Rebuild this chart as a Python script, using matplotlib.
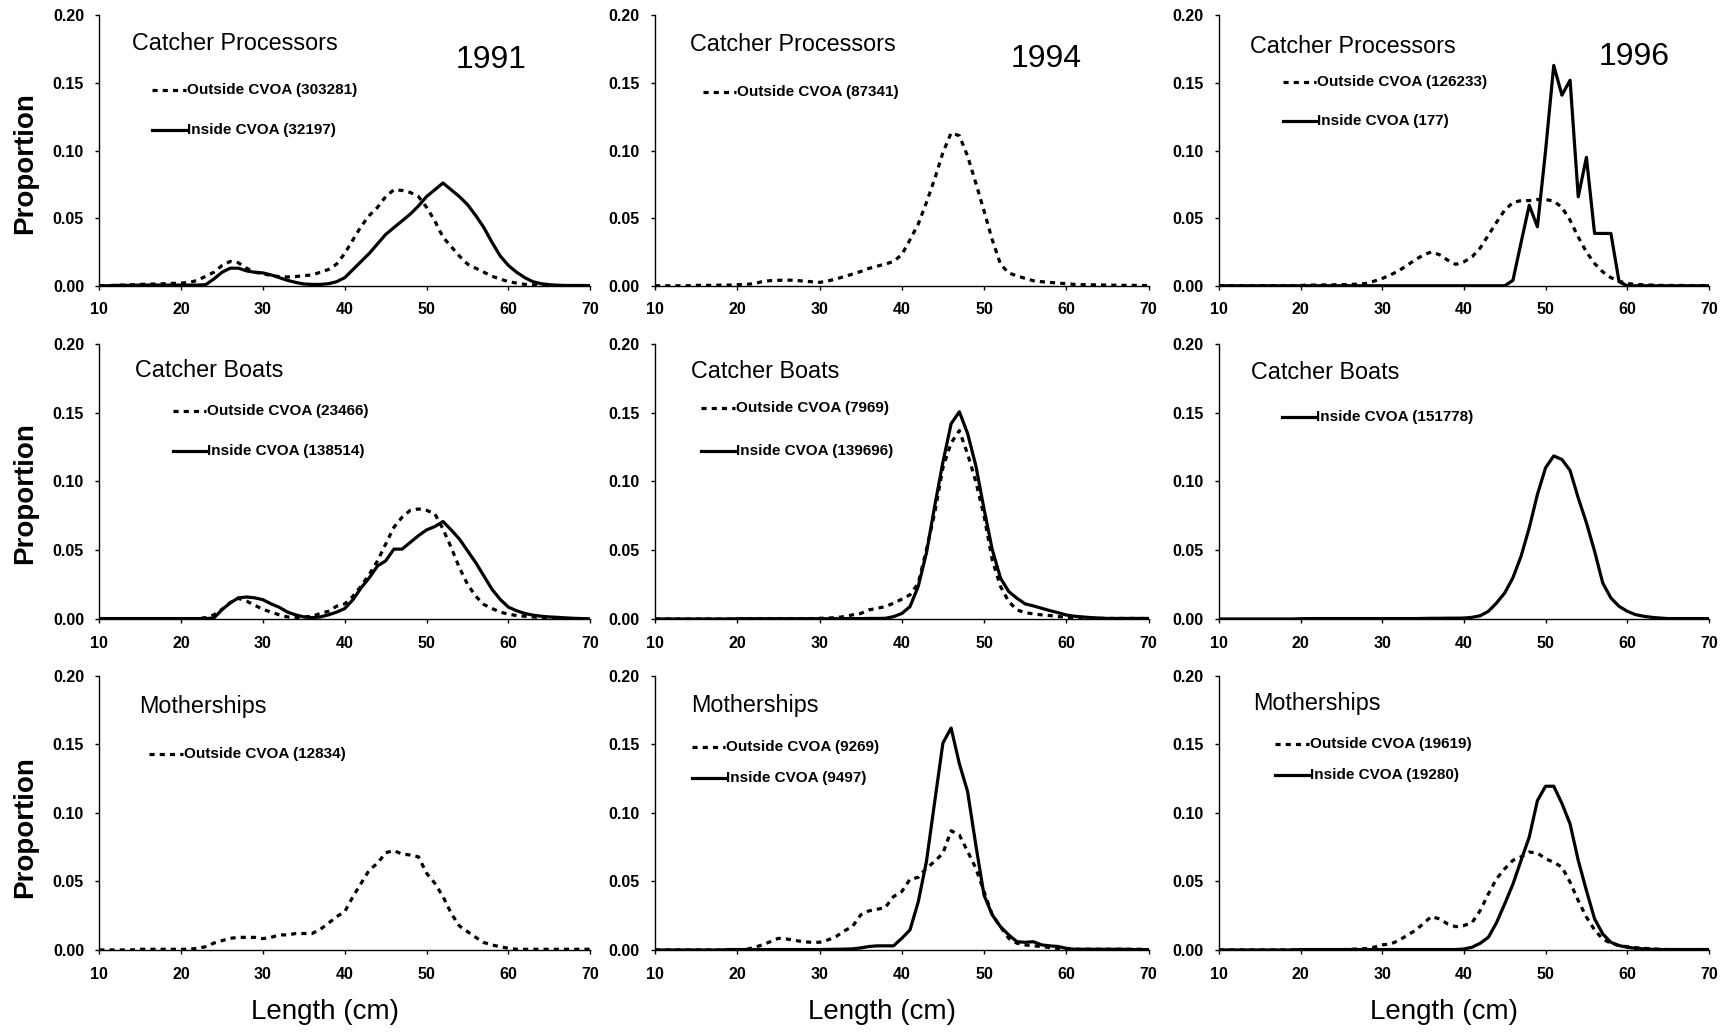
import matplotlib
matplotlib.use("Agg")
import matplotlib.pyplot as plt

plt.rcParams['font.family'] = ['Liberation Sans', 'DejaVu Sans']

# length classes (cm)
length = list(range(10, 71))

years = ['1991', '1994', '1996']
fleets = ['Catcher Processors', 'Catcher Boats', 'Motherships']

# ---- Catcher Processors ----
cp91_out = [0, 0, 0.0003, 0.0005, 0.0007, 0.001, 0.0012, 0.0013, 0.0015, 0.0018,
            0.002, 0.0025, 0.004, 0.007, 0.010, 0.015, 0.018, 0.017, 0.013, 0.010,
            0.009, 0.0075, 0.0068, 0.0065, 0.0068, 0.0075, 0.008, 0.010, 0.012, 0.016,
            0.024, 0.034, 0.044, 0.052, 0.058, 0.066, 0.071, 0.0705, 0.069, 0.066,
            0.058, 0.048, 0.036, 0.029, 0.022, 0.016, 0.013, 0.010, 0.007, 0.005,
            0.003, 0.002, 0.001, 0.0007, 0.0004, 0.0002, 0, 0, 0, 0,
            0]
cp91_in = [0, 0, 0.0003, 0.0003, 0.0003, 0.0005, 0.0005, 0.0005, 0.0005, 0.0005,
           0.0005, 0.0005, 0.0005, 0.0008, 0.005, 0.010, 0.013, 0.013, 0.011, 0.010,
           0.0095, 0.008, 0.006, 0.004, 0.0025, 0.0013, 0.001, 0.001, 0.0015, 0.003,
           0.006, 0.012, 0.018, 0.024, 0.031, 0.038, 0.043, 0.048, 0.053, 0.059,
           0.066, 0.071, 0.076, 0.071, 0.066, 0.060, 0.052, 0.043, 0.032, 0.022,
           0.015, 0.010, 0.006, 0.003, 0.0015, 0.0008, 0.0004, 0.0002, 0.0002, 0.0002,
           0.0001]
cp94_out = [0, 0, 0, 0, 0, 0.0003, 0.0003, 0.0003, 0.0005, 0.0005,
            0.0008, 0.001, 0.0015, 0.003, 0.0038, 0.004, 0.0042, 0.004, 0.0035, 0.003,
            0.0025, 0.0035, 0.005, 0.0068, 0.0086, 0.0105, 0.0128, 0.0145, 0.016, 0.018,
            0.023, 0.034, 0.0456, 0.0616, 0.079, 0.0985, 0.113, 0.111, 0.096, 0.076,
            0.0554, 0.034, 0.016, 0.0094, 0.0074, 0.0054, 0.0037, 0.003, 0.0025, 0.002,
            0.0015, 0.001, 0.0008, 0.0007, 0.0006, 0.0005, 0.0004, 0.0003, 0.0003, 0.0002,
            0.0002]
cp96_out = [0, 0, 0, 0, 0, 0, 0, 0, 0, 0,
            0.0002, 0.0005, 0.0005, 0.0006, 0.0007, 0.0008, 0.001, 0.0012, 0.0017, 0.0034,
            0.0054, 0.008, 0.011, 0.015, 0.019, 0.0227, 0.025, 0.023, 0.019, 0.0158,
            0.0177, 0.0214, 0.028, 0.0375, 0.047, 0.056, 0.0616, 0.063, 0.063, 0.0638,
            0.0638, 0.0626, 0.058, 0.0485, 0.036, 0.025, 0.0165, 0.0103, 0.006, 0.0034,
            0.0017, 0.001, 0.0007, 0.0005, 0.0003, 0.0002, 0.0002, 0.0002, 0.0001, 0.0001,
            0.0001]
cp96_in = [0, 0, 0, 0, 0, 0, 0, 0, 0, 0,
           0, 0, 0, 0, 0, 0, 0, 0, 0, 0,
           0, 0, 0, 0, 0, 0, 0, 0, 0, 0,
           0, 0, 0, 0, 0, 0, 0.004, 0.032, 0.0596, 0.0436,
           0.100, 0.163, 0.141, 0.152, 0.0658, 0.095, 0.0387, 0.0387, 0.0387, 0.003,
           0, 0, 0, 0, 0, 0, 0, 0, 0, 0,
           0]

# ---- Catcher Boats ----
cb91_out = [0.0002, 0.0002, 0.0002, 0.0002, 0.0002, 0.0002, 0.0002, 0.0002, 0.0002, 0.0002,
            0.0002, 0.0002, 0.0003, 0.001, 0.003, 0.007, 0.012, 0.015, 0.013, 0.010,
            0.007, 0.005, 0.003, 0.0015, 0.001, 0.0015, 0.002, 0.004, 0.0056, 0.0093,
            0.011, 0.0166, 0.024, 0.0325, 0.0423, 0.0545, 0.0667, 0.074, 0.079, 0.080,
            0.079, 0.0765, 0.0655, 0.052, 0.0374, 0.0252, 0.0166, 0.0105, 0.0076, 0.005,
            0.0035, 0.0025, 0.002, 0.0015, 0.001, 0.0007, 0.0005, 0.0003, 0.0002, 0.0001,
            0.0001]
cb91_in = [0.0003, 0.0003, 0.0003, 0.0003, 0.0003, 0.0003, 0.0003, 0.0003, 0.0003, 0.0003,
           0.0003, 0.0003, 0.0003, 0.0003, 0.0007, 0.0068, 0.0117, 0.0154, 0.016, 0.0154,
           0.014, 0.011, 0.0085, 0.005, 0.003, 0.0015, 0.001, 0.0015, 0.003, 0.005,
           0.0076, 0.014, 0.0227, 0.030, 0.0386, 0.0423, 0.0508, 0.0508, 0.0557, 0.0606,
           0.0648, 0.0672, 0.0709, 0.0648, 0.0582, 0.0496, 0.041, 0.0313, 0.0215, 0.0142,
           0.0086, 0.006, 0.004, 0.0028, 0.002, 0.0015, 0.0012, 0.0008, 0.0005, 0.0003,
           0.0001]
cb94_out = [0, 0, 0, 0, 0, 0, 0, 0, 0, 0,
            0, 0.0003, 0.0003, 0.0003, 0.0003, 0.0003, 0.0003, 0.0003, 0.0003, 0.0003,
            0.0005, 0.0007, 0.001, 0.0017, 0.003, 0.004, 0.0066, 0.0078, 0.009, 0.0115,
            0.0144, 0.0176, 0.026, 0.0505, 0.077, 0.110, 0.128, 0.137, 0.120, 0.100,
            0.075, 0.043, 0.0237, 0.0127, 0.0066, 0.0046, 0.0037, 0.003, 0.0025, 0.0018,
            0.0012, 0.0008, 0.0004, 0.0004, 0.0004, 0.0004, 0.0004, 0.0004, 0.0004, 0.0004,
            0.0003]
cb94_in = [0, 0, 0, 0, 0, 0, 0, 0, 0, 0,
           0.0002, 0.0002, 0.0002, 0.0002, 0.0002, 0.0002, 0.0002, 0.0002, 0.0002, 0.0002,
           0.0002, 0.0002, 0.0002, 0.0003, 0.0003, 0.0003, 0.0004, 0.0004, 0.0005, 0.0017,
           0.004, 0.009, 0.0237, 0.048, 0.082, 0.114, 0.142, 0.1507, 0.135, 0.1116,
           0.080, 0.0505, 0.0298, 0.020, 0.0151, 0.011, 0.0095, 0.0078, 0.0061, 0.0046,
           0.0029, 0.002, 0.0015, 0.001, 0.0007, 0.0004, 0.0004, 0.0004, 0.0004, 0.0004,
           0.0004]
cb96_in = [0, 0, 0, 0, 0, 0, 0, 0, 0, 0,
           0.0002, 0.0003, 0.0003, 0.0003, 0.0003, 0.0003, 0.0003, 0.0003, 0.0003, 0.0003,
           0.0003, 0.0003, 0.0003, 0.0003, 0.0003, 0.0004, 0.0005, 0.0005, 0.0006, 0.0006,
           0.0007, 0.0012, 0.0024, 0.0056, 0.0117, 0.019, 0.030, 0.0457, 0.0663, 0.0906,
           0.110, 0.1186, 0.116, 0.108, 0.088, 0.070, 0.0493, 0.0262, 0.0153, 0.0092,
           0.0056, 0.0032, 0.002, 0.0012, 0.0007, 0.0003, 0.0003, 0.0003, 0.0003, 0.0003,
           0.0003]

# ---- Motherships ----
ms91_out = [0, 0, 0, 0, 0, 0.0005, 0.0005, 0.0005, 0.0005, 0.0005,
            0.0005, 0.0005, 0.0012, 0.0024, 0.005, 0.0068, 0.0085, 0.0092, 0.0092, 0.0092,
            0.0083, 0.0092, 0.011, 0.011, 0.012, 0.012, 0.012, 0.015, 0.0195, 0.0243,
            0.028, 0.039, 0.0487, 0.0584, 0.0633, 0.071, 0.0725, 0.070, 0.0693, 0.068,
            0.056, 0.0487, 0.039, 0.0268, 0.0175, 0.0134, 0.0092, 0.0054, 0.0036, 0.0024,
            0.0012, 0.0005, 0.0005, 0.0005, 0.0005, 0.0005, 0.0005, 0.0005, 0.0005, 0.0005,
            0.0005]
ms94_out = [0, 0, 0, 0, 0, 0, 0, 0, 0, 0.0003,
            0.0003, 0.0003, 0.0017, 0.0036, 0.006, 0.0085, 0.008, 0.007, 0.006, 0.0056,
            0.0056, 0.0073, 0.0097, 0.0139, 0.017, 0.0256, 0.0285, 0.0297, 0.031, 0.039,
            0.0426, 0.0516, 0.053, 0.0597, 0.0646, 0.0706, 0.087, 0.084, 0.072, 0.0597,
            0.0426, 0.0256, 0.017, 0.0085, 0.0049, 0.0037, 0.003, 0.0025, 0.0017, 0.0012,
            0.0005, 0.0005, 0.0005, 0.0005, 0.0005, 0.0005, 0.0005, 0.0005, 0.0005, 0.0005,
            0.0003]
ms94_in = [0, 0, 0, 0, 0, 0, 0, 0, 0, 0.0003,
           0.0003, 0.0003, 0.0003, 0.0003, 0.0003, 0.0003, 0.0003, 0.0003, 0.0003, 0.0003,
           0.0003, 0.0004, 0.0005, 0.0006, 0.0008, 0.0015, 0.0025, 0.003, 0.003, 0.003,
           0.0085, 0.0146, 0.035, 0.0646, 0.108, 0.151, 0.162, 0.136, 0.1157, 0.0767,
           0.040, 0.0256, 0.017, 0.011, 0.006, 0.0056, 0.006, 0.0037, 0.003, 0.0025,
           0.0012, 0.0005, 0.0005, 0.0005, 0.0005, 0.0005, 0.0005, 0.0005, 0.0003, 0.0003,
           0.0002]
ms96_out = [0, 0, 0, 0, 0, 0, 0, 0, 0, 0,
            0.0002, 0.0002, 0.0002, 0.0002, 0.0002, 0.0002, 0.0005, 0.0007, 0.001, 0.002,
            0.0037, 0.0044, 0.0068, 0.0105, 0.0141, 0.019, 0.0244, 0.0227, 0.019, 0.017,
            0.0178, 0.020, 0.0288, 0.041, 0.052, 0.0593, 0.0654, 0.068, 0.0715, 0.0707,
            0.0666, 0.064, 0.0605, 0.0495, 0.036, 0.024, 0.0146, 0.008, 0.0049, 0.0032,
            0.0024, 0.0017, 0.0012, 0.0008, 0.0005, 0.0003, 0.0003, 0.0003, 0.0003, 0.0003,
            0.0003]
ms96_in = [0, 0, 0, 0, 0, 0, 0, 0, 0, 0,
           0.0003, 0.0003, 0.0003, 0.0003, 0.0003, 0.0003, 0.0003, 0.0003, 0.0003, 0.0003,
           0.0003, 0.0003, 0.0003, 0.0003, 0.0003, 0.0003, 0.0003, 0.0003, 0.0003, 0.0003,
           0.0007, 0.002, 0.0049, 0.0093, 0.020, 0.0337, 0.048, 0.0654, 0.0824, 0.109,
           0.1195, 0.1195, 0.107, 0.092, 0.0654, 0.0434, 0.0227, 0.0117, 0.0056, 0.0032,
           0.002, 0.0012, 0.0008, 0.0005, 0.0003, 0.0003, 0.0003, 0.0003, 0.0003, 0.0003,
           0.0003]

# which series goes in which panel (row = fleet, col = year)
panel_series = {
    (0, 0): [(cp91_out, 'Outside CVOA (303281)', 'out'), (cp91_in, 'Inside CVOA (32197)', 'in')],
    (0, 1): [(cp94_out, 'Outside CVOA (87341)', 'out')],
    (0, 2): [(cp96_out, 'Outside CVOA (126233)', 'out'), (cp96_in, 'Inside CVOA (177)', 'in')],
    (1, 0): [(cb91_out, 'Outside CVOA (23466)', 'out'), (cb91_in, 'Inside CVOA (138514)', 'in')],
    (1, 1): [(cb94_out, 'Outside CVOA (7969)', 'out'), (cb94_in, 'Inside CVOA (139696)', 'in')],
    (1, 2): [(cb96_in, 'Inside CVOA (151778)', 'in')],
    (2, 0): [(ms91_out, 'Outside CVOA (12834)', 'out')],
    (2, 1): [(ms94_out, 'Outside CVOA (9269)', 'out'), (ms94_in, 'Inside CVOA (9497)', 'in')],
    (2, 2): [(ms96_out, 'Outside CVOA (19619)', 'out'), (ms96_in, 'Inside CVOA (19280)', 'in')],
}

# --- layout (figure fraction) ---
col_left = [0.0574, 0.3786, 0.7046]
col_width = [0.2838, 0.2853, 0.2832]
row_bottom = [0.7231, 0.4002, 0.0795]
row_height = [0.2620, 0.2665, 0.2655]

# legend key start (x) and rows (y) in axes fraction
legend_pos = {
    (0, 0): (0.108, [0.723, 0.576]),
    (0, 1): (0.097, [0.716]),
    (0, 2): (0.130, [0.755, 0.610]),
    (1, 0): (0.150, [0.758, 0.612]),
    (1, 1): (0.094, [0.766, 0.612]),
    (1, 2): (0.128, [0.733]),
    (2, 0): (0.102, [0.716]),
    (2, 1): (0.074, [0.740, 0.628]),
    (2, 2): (0.115, [0.752, 0.638]),
}
title_pos = {
    (0, 0): (0.066, 0.897), (0, 1): (0.070, 0.893), (0, 2): (0.064, 0.885),
    (1, 0): (0.072, 0.905), (1, 1): (0.072, 0.900), (1, 2): (0.066, 0.898),
    (2, 0): (0.081, 0.890), (2, 1): (0.074, 0.894), (2, 2): (0.070, 0.898),
}
year_pos = [(0.798, 0.835), (0.793, 0.84), (0.847, 0.845)]
ylabel_y = [0.842, 0.522, 0.199]

styles = {'out': dict(ls=(0, (1.6, 1.6)), lw=2.3), 'in': dict(ls='-', lw=2.3)}
key_len = 0.068

fig = plt.figure(figsize=(17.3, 10.32), dpi=100)

for (r, c), series in panel_series.items():
    ax = fig.add_axes([col_left[c], row_bottom[r], col_width[c], row_height[r]])
    for vals, lab, kind in series:
        ax.plot(length, vals, color='black', **styles[kind])

    ax.set_xlim(10, 70)
    ax.set_ylim(0, 0.20)
    ax.set_xticks([10, 20, 30, 40, 50, 60, 70])
    ax.set_yticks([0, 0.05, 0.10, 0.15, 0.20])
    ax.yaxis.set_major_formatter(plt.FormatStrFormatter('%.2f'))
    for s in ['top', 'right']:
        ax.spines[s].set_visible(False)
    for s in ['left', 'bottom']:
        ax.spines[s].set_linewidth(1.0)
    ax.tick_params(direction='out', length=3, width=1, labelsize=11.5)
    ax.tick_params(axis='x', pad=9)
    ax.tick_params(axis='y', pad=8)
    for t in ax.get_xticklabels() + ax.get_yticklabels():
        t.set_fontweight('bold')

    # fleet name
    tx, ty = title_pos[(r, c)]
    ax.text(tx, ty, fleets[r], transform=ax.transAxes, fontsize=16.8,
            ha='left', va='center')

    # hand made legend
    lx, lys = legend_pos[(r, c)]
    for (vals, lab, kind), ly in zip(series, lys):
        ax.plot([lx, lx + key_len], [ly, ly], transform=ax.transAxes,
                color='black', clip_on=False, **styles[kind])
        ax.text(lx + key_len + 0.002, ly, lab, transform=ax.transAxes, fontsize=11,
                fontweight='bold', ha='left', va='center')

    if r == 0:
        yx, yy = year_pos[c]
        ax.text(yx, yy, years[c], transform=ax.transAxes, fontsize=23,
                ha='center', va='center')
    if r == 2:
        ax.text(0.46, -0.226, 'Length (cm)', transform=ax.transAxes,
                fontsize=20, ha='center', va='center')

for y in ylabel_y:
    fig.text(0.0145, y, 'Proportion', rotation=90, fontsize=20,
             fontweight='bold', ha='center', va='center')

fig.savefig('out.png', dpi=100)
